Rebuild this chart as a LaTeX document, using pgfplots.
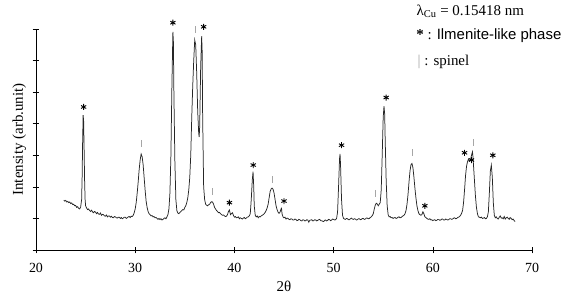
\documentclass[border=0pt]{standalone}
\usepackage{fontspec}
\setmainfont{Liberation Serif}
\newfontfamily\arialf{Liberation Sans}
\usepackage{pgfplots}
\pgfplotsset{compat=1.18}
\usetikzlibrary{calc}
\begin{document}
\begin{tikzpicture}
\begin{axis}[name=ax, at={(0,0)}, anchor=south west,
  scale only axis, width=496bp, height=221bp,
  xmin=20, xmax=70, ymin=0, ymax=7,
  axis x line*=bottom, axis y line*=left,
  axis line style={black, line width=0.6pt},
  xtick={20,30,...,70}, ytick={0,1,...,7}, yticklabels={},
  tick align=center, major tick length=7bp,
  tick style={black, line width=0.6pt},
  /pgf/number format/assume math mode=true,
  ticklabel style={font=\fontsize{14}{16}\selectfont},
  xticklabel style={yshift=-6bp},
  xlabel={2θ}, ylabel={Intensity (arb.unit)},
  label style={font=\fontsize{15}{17}\selectfont},
  xlabel style={yshift=-2bp},
  ylabel style={yshift=-4bp},
  clip=false]
\addplot[black!85, line width=0.75pt] table {
22.8 1.58
22.9 1.55
23.0 1.57
23.1 1.52
23.2 1.54
23.3 1.50
23.4 1.52
23.5 1.47
23.6 1.49
23.7 1.44
23.8 1.45
23.9 1.40
24.0 1.41
24.1 1.35
24.2 1.37
24.3 1.32
24.4 1.30
24.5 1.36
24.6 1.6
24.65 2.3
24.7 3.4
24.75 4.27
24.8 4.1
24.85 3.2
24.9 2.2
24.95 1.6
25.0 1.40
25.1 1.33
25.2 1.28
25.3 1.30
25.4 1.25
25.5 1.22
25.6 1.26
25.7 1.21
25.8 1.18
25.9 1.22
26.0 1.20
26.1 1.15
26.2 1.19
26.3 1.14
26.4 1.13
26.5 1.17
26.6 1.10
26.7 1.13
26.8 1.12
26.9 1.08
27.0 1.07
27.1 1.11
27.2 1.05
27.3 1.08
27.4 1.08
27.5 1.04
27.6 1.07
27.7 1.03
27.8 1.02
27.9 1.06
28.0 1.05
28.1 1.02
28.2 1.01
28.3 1.04
28.4 1.04
28.5 1.00
28.6 1.03
28.7 0.99
28.8 1.01
28.9 1.04
29.0 1.04
29.1 1.00
29.2 1.02
29.3 1.05
29.4 1.06
29.5 1.03
29.6 1.07
29.7 1.06
29.8 1.10
29.9 1.18
30.0 1.30
30.1 1.50
30.2 1.80
30.3 2.15
30.4 2.55
30.5 2.85
30.6 3.04
30.7 2.95
30.8 2.70
30.9 2.30
31.0 1.90
31.1 1.55
31.2 1.35
31.3 1.22
31.4 1.15
31.5 1.12
31.6 1.08
31.7 1.09
31.8 1.05
31.9 1.06
32.0 1.02
32.1 1.03
32.2 1.00
32.3 0.97
32.4 1.00
32.5 0.96
32.6 0.99
32.7 0.95
32.8 0.97
32.9 1.00
33.0 1.02
33.1 0.99
33.2 1.05
33.3 1.12
33.4 1.3
33.5 1.8
33.6 3.0
33.7 5.2
33.8 6.91
33.85 6.6
33.9 5.0
34.0 2.8
34.1 1.6
34.2 1.25
34.3 1.17
34.4 1.15
34.5 1.19
34.6 1.22
34.7 1.25
34.8 1.28
34.9 1.27
35.0 1.35
35.1 1.40
35.2 1.50
35.3 1.65
35.4 1.9
35.5 2.3
35.6 3.0
35.7 4.2
35.8 5.2
35.9 6.0
36.0 6.65
36.1 6.5
36.2 5.6
36.3 4.4
36.4 3.7
36.45 3.58
36.5 3.9
36.6 5.8
36.7 6.77
36.75 6.3
36.8 4.2
36.9 2.0
37.0 1.6
37.1 1.45
37.2 1.42
37.3 1.40
37.4 1.43
37.5 1.45
37.6 1.5
37.7 1.53
37.8 1.52
37.9 1.45
38.0 1.35
38.1 1.30
38.2 1.25
38.3 1.22
38.4 1.18
38.5 1.19
38.6 1.15
38.7 1.12
38.8 1.10
38.9 1.11
39.0 1.08
39.1 1.06
39.2 1.07
39.3 1.12
39.4 1.22
39.5 1.27
39.6 1.12
39.7 1.15
39.8 1.18
39.9 1.10
40.0 1.04
40.1 1.06
40.2 1.02
40.3 1.03
40.4 1.05
40.5 0.99
40.6 1.02
40.7 1.00
40.8 0.98
40.9 1.01
41.0 1.03
41.1 0.99
41.2 1.01
41.3 1.04
41.4 1.05
41.5 1.08
41.6 1.15
41.7 1.6
41.8 2.2
41.88 2.48
41.95 2.0
42.0 1.4
42.1 1.1
42.2 1.05
42.3 1.08
42.4 1.02
42.5 1.06
42.6 1.05
42.7 1.08
42.8 1.10
42.9 1.12
43.0 1.15
43.1 1.19
43.2 1.25
43.3 1.33
43.4 1.45
43.5 1.65
43.6 1.85
43.7 1.93
43.8 1.96
43.9 1.92
44.0 1.8
44.1 1.6
44.2 1.40
44.3 1.28
44.4 1.20
44.5 1.16
44.6 1.20
44.7 1.30
44.75 1.32
44.8 1.15
44.9 1.05
45.0 1.02
45.1 1.04
45.2 0.98
45.3 1.01
45.4 1.00
45.5 0.97
45.6 0.96
45.7 0.99
45.8 0.98
45.9 0.95
46.0 0.95
46.1 0.98
46.2 0.97
46.3 0.93
46.4 0.94
46.5 0.97
46.6 0.96
46.7 0.93
46.8 0.92
46.9 0.96
47.0 0.95
47.1 0.92
47.2 0.93
47.3 0.96
47.4 0.95
47.5 0.88
47.6 0.94
47.7 0.95
47.8 0.96
47.9 0.92
48.0 0.93
48.1 0.96
48.2 0.95
48.3 0.92
48.4 0.94
48.5 0.96
48.6 0.97
48.7 0.93
48.8 0.93
48.9 0.91
49.0 0.90
49.1 0.94
49.2 0.95
49.3 0.92
49.4 0.94
49.5 0.97
49.6 0.96
49.7 0.93
49.8 0.95
49.9 0.98
50.0 0.97
50.1 0.95
50.2 0.96
50.3 1.0
50.4 1.2
50.5 2.0
50.6 2.9
50.65 3.04
50.7 2.7
50.8 1.6
50.9 1.1
51.0 1.0
51.1 0.98
51.2 0.97
51.3 1.00
51.4 0.99
51.5 0.96
51.6 0.96
51.7 0.99
51.8 1.01
51.9 0.98
52.0 0.97
52.1 0.99
52.2 0.98
52.3 0.95
52.4 0.96
52.5 0.99
52.6 0.99
52.7 0.96
52.8 0.97
52.9 1.00
53.0 1.00
53.1 0.97
53.2 0.98
53.3 1.01
53.4 1.01
53.5 0.99
53.6 1.00
53.7 1.03
53.8 1.05
53.9 1.09
54.0 1.15
54.1 1.30
54.2 1.42
54.3 1.48
54.4 1.46
54.5 1.40
54.6 1.45
54.7 1.50
54.8 1.9
54.9 3.0
55.0 4.2
55.08 4.56
55.15 4.3
55.2 3.5
55.3 2.2
55.4 1.4
55.5 1.12
55.6 1.05
55.7 1.06
55.8 1.02
55.9 1.03
56.0 1.00
56.1 1.02
56.2 1.03
56.3 1.00
56.4 1.01
56.5 1.04
56.6 1.05
56.7 1.02
56.8 1.03
56.9 1.06
57.0 1.08
57.1 1.10
57.2 1.15
57.3 1.25
57.4 1.45
57.5 1.75
57.6 2.15
57.7 2.50
57.8 2.70
57.9 2.74
58.0 2.60
58.1 2.30
58.2 1.95
58.3 1.65
58.4 1.40
58.5 1.25
58.6 1.15
58.7 1.12
58.8 1.10
58.9 1.12
59.0 1.21
59.1 1.15
59.2 1.05
59.3 1.03
59.4 1.00
59.5 0.98
59.6 0.97
59.7 0.99
59.8 0.95
59.9 0.96
60.0 0.93
60.1 0.95
60.2 0.96
60.3 0.93
60.4 0.94
60.5 0.97
60.6 0.97
60.7 0.94
60.8 0.95
60.9 0.98
61.0 0.98
61.1 0.95
61.2 0.95
61.3 0.98
61.4 0.97
61.5 0.95
61.6 0.96
61.7 0.99
61.8 0.99
61.9 0.97
62.0 0.98
62.1 1.01
62.2 1.02
62.3 0.99
62.4 1.00
62.5 1.03
62.6 1.04
62.7 1.06
62.8 1.10
62.9 1.16
63.0 1.25
63.1 1.50
63.2 1.90
63.3 2.35
63.4 2.65
63.5 2.80
63.6 2.88
63.7 2.82
63.8 2.85
63.9 3.00
64.0 3.11
64.05 2.95
64.1 2.7
64.2 2.2
64.3 1.7
64.4 1.35
64.5 1.15
64.6 1.05
64.7 1.04
64.8 1.02
64.9 1.04
65.0 1.00
65.1 1.01
65.2 1.03
65.3 0.99
65.4 1.00
65.5 1.05
65.6 1.2
65.7 1.8
65.8 2.5
65.9 2.69
66.0 2.3
66.1 1.5
66.2 1.1
66.3 1.02
66.4 1.05
66.5 1.00
66.6 0.98
66.7 1.04
66.8 1.08
66.9 1.01
67.0 1.02
67.1 0.99
67.2 1.06
67.3 0.98
67.4 1.02
67.5 1.04
67.6 1.0
67.7 0.97
67.8 1.03
67.9 1.00
68.0 0.96
68.1 0.98
68.2 0.93
68.3 0.90
};
% ilmenite-like phase markers
\addplot[only marks, mark=asterisk, mark size=3bp, black, line width=0.9pt] table {
24.8 4.53
33.8 7.2
36.9 7.07
39.5 1.5
41.9 2.69
45.0 1.55
50.8 3.32
55.3 4.83
59.2 1.40
63.2 3.08
63.9 2.85
66.05 3.0
};
% spinel markers
\addplot[only marks, mark=|, mark size=3.5bp, black!35, line width=0.6pt] table {
30.64 3.38
36.04 6.98
37.76 1.85
43.8 2.22
54.2 1.79
57.9 3.08
64.04 3.40
};
\node[anchor=west, font=\fontsize{15}{17}\selectfont, inner sep=0pt] at (axis cs:58.35,7.56) {λ\textsubscript{Cu} = 0.15418 nm};
\node[anchor=west, font=\fontsize{15}{17}\selectfont, inner sep=0pt] at (axis cs:58.33,6.80) {\textbf{*} : {\arialf Ilmenite-like phase}};
\node[anchor=west, font=\fontsize{15}{17}\selectfont, inner sep=0pt] at (axis cs:58.46,5.96) {{\color{black!35}|} : spinel};
\end{axis}
\pgfresetboundingbox
\path ($(ax.south west)+(-36bp,-46bp)$) rectangle ++(565bp,296bp);
\end{tikzpicture}
\end{document}
